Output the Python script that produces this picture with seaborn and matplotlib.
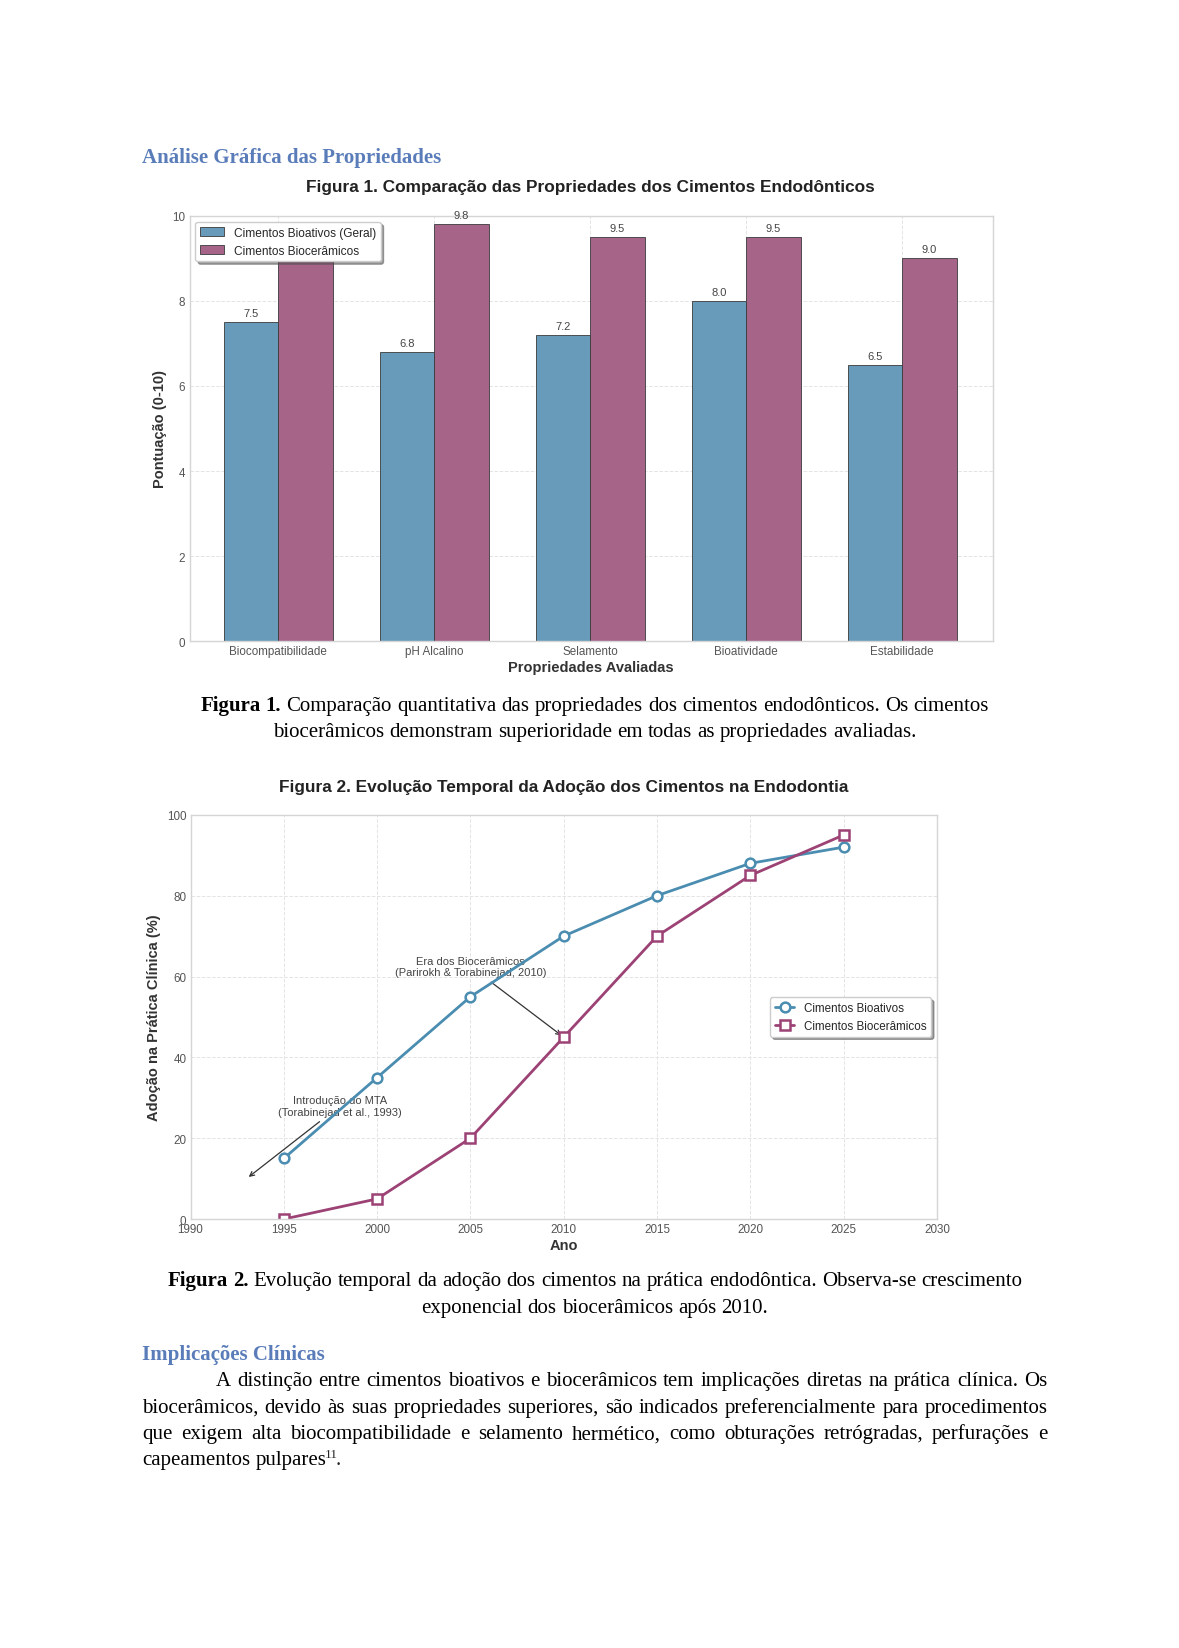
import numpy as np
import pandas as pd
from matplotlib import pyplot as plt
import seaborn as sns

# dados da figura 1 (pontuacao 0-10)
propriedades = ['Biocompatibilidade', 'pH Alcalino', 'Selamento', 'Bioatividade', 'Estabilidade']
bioativos = [7.5, 6.8, 7.2, 8.0, 6.5]
bioceramicos = [9.2, 9.8, 9.5, 9.5, 9.0]
grupos = ['Cimentos Bioativos (Geral)', 'Cimentos Biocerâmicos']

# dados da figura 2 (adocao %)
anos = [1995, 2000, 2005, 2010, 2015, 2020, 2025]
adocao_bioativos = [15, 35, 55, 70, 80, 88, 92]
adocao_bioceramicos = [0, 5, 20, 45, 70, 85, 95]
series = ['Cimentos Bioativos', 'Cimentos Biocerâmicos']

W, H = 1179, 1649
AZUL_BAR, ROXO_BAR = '#689bba', '#a66489'
AZUL_LIN, ROXO_LIN = '#4a8db1', '#9c4275'
HEAD = '#5a7dba'

sns.set_theme(style='whitegrid')
plt.rcParams['font.family'] = ['Liberation Sans', 'DejaVu Sans']

fig = plt.figure(figsize=(W / 100, H / 100), dpi=100)
fig.patch.set_facecolor('white')
renderer = fig.canvas.get_renderer()


def fx(x):
    return x / W


def fy(y):
    return 1 - y / H


def style_ax(ax):
    ax.grid(True, linestyle='--', color='#e4e4e4', linewidth=0.7)
    for s in ax.spines.values():
        s.set_color('#d5d5d5')
        s.set_linewidth(1.0)
    ax.tick_params(labelsize=8.4, labelcolor='#555555', length=0, pad=3)


# ---------- Figura 1: barras ----------
ax1 = fig.add_axes([189.5 / W, fy(642.1), (992.7 - 189.5) / W, (642.1 - 216.9) / H])
df1 = pd.DataFrame({
    'Propriedade': propriedades * 2,
    'Pontuacao': bioativos + bioceramicos,
    'Tipo': [grupos[0]] * 5 + [grupos[1]] * 5,
})
sns.barplot(data=df1, x='Propriedade', y='Pontuacao', hue='Tipo', hue_order=grupos,
            palette=[AZUL_BAR, ROXO_BAR], width=0.7, saturation=1,
            edgecolor='#3a3a3a', linewidth=0.6, ax=ax1)
for c in ax1.containers:
    ax1.bar_label(c, fmt='%.1f', padding=3, fontsize=8, color='#444444')
ax1.set_ylim(0, 10)
ax1.set_xlim(-0.57, 4.58)
ax1.set_yticks([0, 2, 4, 6, 8, 10])
style_ax(ax1)
ax1.set_xlabel('Propriedades Avaliadas', fontsize=10.5, fontweight='bold', color='#333333', labelpad=2)
ax1.set_ylabel('Pontuação (0-10)', fontsize=10.5, fontweight='bold', color='#333333')
leg1 = ax1.legend(loc='upper left', fontsize=8.6, frameon=True, shadow=True, fancybox=True,
                  framealpha=1, edgecolor='#cccccc')
leg1.set_zorder(10)
fig.text(fx(590), fy(187.4), 'Figura 1. Comparação das Propriedades dos Cimentos Endodônticos',
         ha='center', va='center', fontsize=12.4, fontweight='bold', color='#222222')

# ---------- Figura 2: linhas ----------
ax2 = fig.add_axes([190.5 / W, fy(1220.1), (936.9 - 190.5) / W, (1220.1 - 815.8) / H])
df2 = pd.DataFrame({
    'Ano': anos * 2,
    'Adocao': adocao_bioativos + adocao_bioceramicos,
    'Tipo': [series[0]] * 7 + [series[1]] * 7,
})
sns.lineplot(data=df2, x='Ano', y='Adocao', hue='Tipo', hue_order=series, style='Tipo',
             style_order=series, markers=['o', 's'], dashes=False,
             palette=[AZUL_LIN, ROXO_LIN], linewidth=2.0, markersize=7,
             markerfacecolor='white', legend=False, ax=ax2)
for ln in ax2.lines:
    ln.set_markeredgecolor(ln.get_color())
    ln.set_markeredgewidth(1.8)
    ln.set_markerfacecolor('white')
ax2.set_xlim(1990, 2030)
ax2.set_ylim(0, 100)
ax2.set_xticks(range(1990, 2031, 5))
ax2.set_yticks(range(0, 101, 20))
style_ax(ax2)
ax2.set_xlabel('Ano', fontsize=10.5, fontweight='bold', color='#333333', labelpad=2)
ax2.set_ylabel('Adoção na Prática Clínica (%)', fontsize=10.5, fontweight='bold', color='#333333')
ax2.legend(ax2.lines[:2], series, loc='center right', fontsize=8.4, frameon=True, shadow=True,
           fancybox=True, framealpha=1, edgecolor='#cccccc', handlelength=1.7)
seta = dict(arrowstyle='->', color='#333333', lw=0.9)
ax2.annotate('Introdução do MTA\n(Torabinejad et al., 1993)', xy=(1993, 10), xytext=(1998, 28),
             ha='center', va='center', fontsize=8, color='#444444', arrowprops=seta, zorder=1)
ax2.annotate('Era dos Biocerâmicos\n(Parirokh & Torabinejad, 2010)', xy=(2010, 45), xytext=(2005, 62.5),
             ha='center', va='center', fontsize=8, color='#444444', arrowprops=seta, zorder=1)
fig.text(fx(564), fy(787.4), 'Figura 2. Evolução Temporal da Adoção dos Cimentos na Endodontia',
         ha='center', va='center', fontsize=12.4, fontweight='bold', color='#222222')

# ---------- texto da pagina ----------
SERIF = ['Liberation Serif', 'DejaVu Serif']
FS = 15.0


def largura(s, **kw):
    t = fig.text(0, 0, s, **kw)
    w = t.get_window_extent(renderer).width
    t.remove()
    return w


def linha(runs, y, x0=None, x1=None, centro=None, justificar=False, fs=FS):
    kws = [dict(fontsize=fs, family=SERIF, fontweight=wt) for _, wt in runs]
    ws = [largura(w, **k) for (w, _), k in zip(runs, kws)]
    esp = largura('a a', fontsize=fs, family=SERIF) - largura('aa', fontsize=fs, family=SERIF)
    if justificar:
        gap = (x1 - x0 - sum(ws)) / (len(runs) - 1)
        x = x0
    elif centro is not None:
        gap = esp
        x = centro - (sum(ws) + esp * (len(runs) - 1)) / 2
    else:
        gap = esp
        x = x0
    for (w, _), k, wd in zip(runs, kws, ws):
        fig.text(fx(x), fy(y), w, va='baseline', ha='left', color='black', **k)
        x += wd + gap
    return x - gap


def palavras(s, wt='normal'):
    return [(p, wt) for p in s.split()]


fig.text(fx(142), fy(163), 'Análise Gráfica das Propriedades', fontsize=15, family=SERIF,
         fontweight='bold', color=HEAD, va='baseline')

CX = 594.7
linha(palavras('Figura 1.', 'bold') + palavras('Comparação quantitativa das propriedades dos cimentos endodônticos. Os cimentos'),
      711, centro=CX)
linha(palavras('biocerâmicos demonstram superioridade em todas as propriedades avaliadas.'), 737.5, centro=CX)

linha(palavras('Figura 2.', 'bold') + palavras('Evolução temporal da adoção dos cimentos na prática endodôntica. Observa-se crescimento'),
      1286, centro=CX)
linha(palavras('exponencial dos biocerâmicos após 2010.'), 1313, centro=CX)

fig.text(fx(142), fy(1360), 'Implicações Clínicas', fontsize=15, family=SERIF,
         fontweight='bold', color=HEAD, va='baseline')

corpo = [
    'A distinção entre cimentos bioativos e biocerâmicos tem implicações diretas na prática clínica. Os',
    'biocerâmicos, devido às suas propriedades superiores, são indicados preferencialmente para procedimentos',
    'que exigem alta biocompatibilidade e selamento hermético, como obturações retrógradas, perfurações e',
]
ys = [1386.5, 1412.8, 1439.1]
x_inicio = [215.8, 142, 142]
for txt, y, x0 in zip(corpo, ys, x_inicio):
    linha(palavras(txt), y, x0=x0, x1=1047.4, justificar=True)
xf = linha(palavras('capeamentos pulpares'), 1465.4, x0=142)
fig.text(fx(xf - 1), fy(1465.4 - 7), '11', fontsize=9.5, family=SERIF, va='baseline')
xs = xf - 1 + largura('11', fontsize=9.5, family=SERIF) - 3
fig.text(fx(xs), fy(1465.4), '.', fontsize=FS, family=SERIF, va='baseline')

fig.savefig('out.png', dpi=100, facecolor='white')
